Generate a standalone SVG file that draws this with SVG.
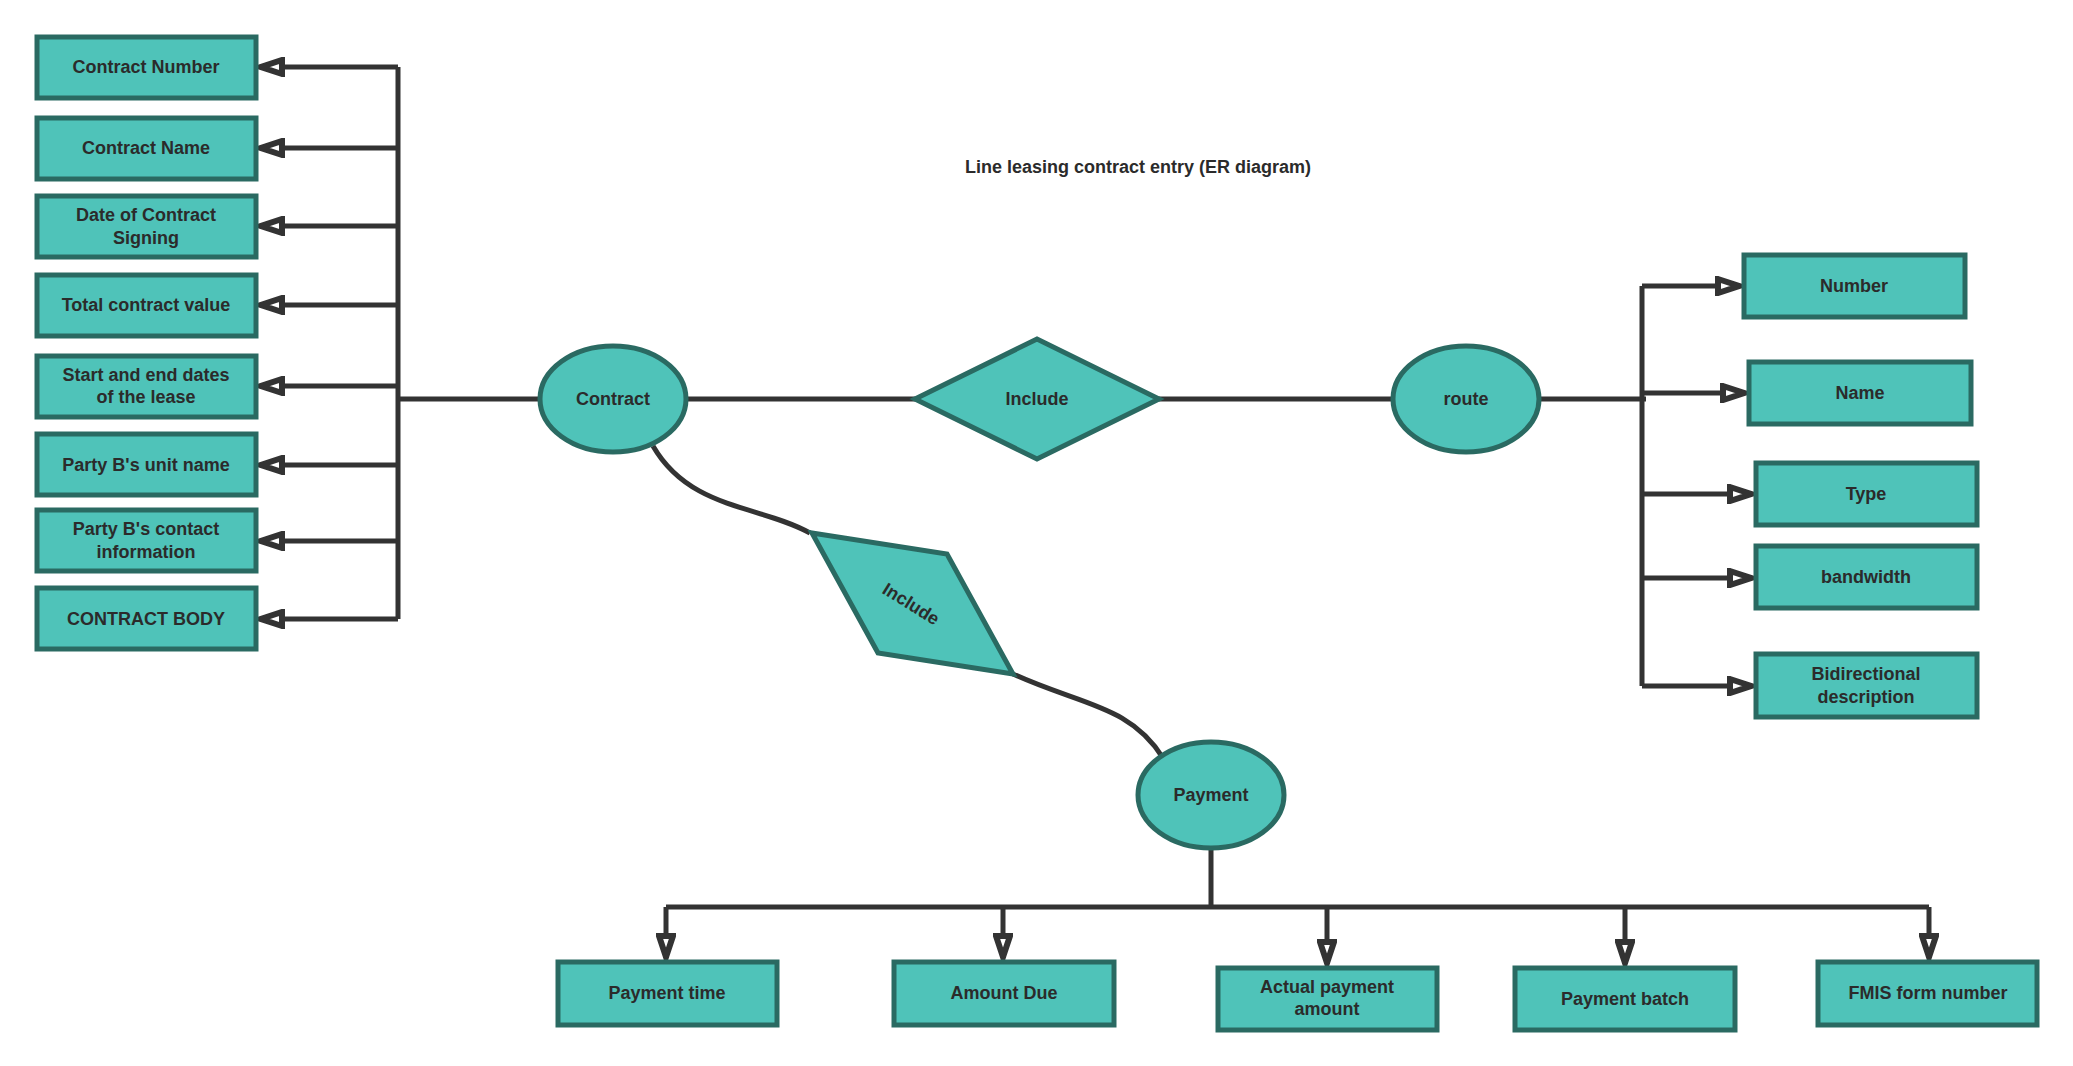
<svg xmlns="http://www.w3.org/2000/svg" width="2073" height="1066" viewBox="0 0 2073 1066">
<style>
.n{fill:#4fc3b9;stroke:#2a6a62;stroke-width:5}
.t{font-family:"Liberation Sans",Arial,sans-serif;font-weight:bold;font-size:18px;fill:#2b2b2b;text-anchor:middle;dominant-baseline:central}
.c{fill:none;stroke:#333;stroke-width:5}
.a{marker-end:url(#ar)}
</style>
<defs>
<marker id="ar" viewBox="0 0 14 10" refX="13" refY="5" markerWidth="5.6" markerHeight="4" orient="auto" markerUnits="strokeWidth">
<path d="M2,1.5 L12.5,5 L2,8.5 Z" fill="#fff" stroke="#333" stroke-width="3" stroke-linejoin="miter"/>
</marker>
</defs>
<rect width="2073" height="1066" fill="#fff"/>
<text class="t" x="1138" y="167">Line leasing contract entry (ER diagram)</text>
<g id="connectors">
<path class="c" d="M398 67 V619 M398 399 H541 M686 399 H915 M1159 399 H1393 M1539 399 H1646 M1642 286 V686"/>
<path class="c a" d="M398 67 H260"/><path class="c a" d="M398 148 H260"/><path class="c a" d="M398 226 H260"/><path class="c a" d="M398 305 H260"/><path class="c a" d="M398 386 H260"/><path class="c a" d="M398 465 H260"/><path class="c a" d="M398 541 H260"/><path class="c a" d="M398 619 H260"/>
<path class="c a" d="M1642 286 H1740"/><path class="c a" d="M1642 393 H1745"/><path class="c a" d="M1642 494 H1752"/><path class="c a" d="M1642 578 H1752"/><path class="c a" d="M1642 686 H1752"/>
<path class="c" d="M653 446 C690 510 760 505 810 533"/>
<path class="c" d="M1013 674 C1080 705 1130 705 1163 758"/>
<path class="c" d="M1211 848 V907 M666 907 H1929"/>
<path class="c a" d="M666 907 V958"/><path class="c a" d="M1003 907 V958"/><path class="c a" d="M1327 907 V964"/><path class="c a" d="M1625 907 V964"/><path class="c a" d="M1929 907 V958"/>
</g>
<g id="contract-number"><rect class="n" x="37" y="37" width="219" height="61"/><text class="t" x="146" y="67">Contract Number</text></g>
<g id="contract-name"><rect class="n" x="37" y="118" width="219" height="61"/><text class="t" x="146" y="148">Contract Name</text></g>
<g id="date-signing"><rect class="n" x="37" y="196" width="219" height="61"/><text class="t" x="146" y="215">Date of Contract</text><text class="t" x="146" y="238">Signing</text></g>
<g id="total-value"><rect class="n" x="37" y="275" width="219" height="61"/><text class="t" x="146" y="305">Total contract value</text></g>
<g id="lease-dates"><rect class="n" x="37" y="356" width="219" height="61"/><text class="t" x="146" y="375">Start and end dates</text><text class="t" x="146" y="397">of the lease</text></g>
<g id="unit-name"><rect class="n" x="37" y="434" width="219" height="61"/><text class="t" x="146" y="465">Party B's unit name</text></g>
<g id="contact-info"><rect class="n" x="37" y="510" width="219" height="61"/><text class="t" x="146" y="529">Party B's contact</text><text class="t" x="146" y="552">information</text></g>
<g id="contract-body"><rect class="n" x="37" y="588" width="219" height="61"/><text class="t" x="146" y="619">CONTRACT BODY</text></g>
<g id="contract"><ellipse class="n" cx="613" cy="399" rx="73" ry="53"/><text class="t" x="613" y="399">Contract</text></g>
<g id="include1"><polygon class="n" points="915,399 1037,339 1159,399 1037,459"/><text class="t" x="1037" y="399">Include</text></g>
<g id="route"><ellipse class="n" cx="1466" cy="399" rx="73" ry="53"/><text class="t" x="1466" y="399">route</text></g>
<g id="number"><rect class="n" x="1744" y="255" width="221" height="62"/><text class="t" x="1854" y="286">Number</text></g>
<g id="name"><rect class="n" x="1749" y="362" width="222" height="62"/><text class="t" x="1860" y="393">Name</text></g>
<g id="type"><rect class="n" x="1756" y="463" width="221" height="62"/><text class="t" x="1866" y="494">Type</text></g>
<g id="bandwidth"><rect class="n" x="1756" y="546" width="221" height="62"/><text class="t" x="1866" y="577">bandwidth</text></g>
<g id="bidirectional"><rect class="n" x="1756" y="654" width="221" height="63"/><text class="t" x="1866" y="674">Bidirectional</text><text class="t" x="1866" y="697">description</text></g>
<g id="include2"><polygon class="n" points="812,533 947,554 1013,674 878,653"/><text class="t" x="911" y="604" transform="rotate(32 911 604)">Include</text></g>
<g id="payment"><ellipse class="n" cx="1211" cy="795" rx="73" ry="53"/><text class="t" x="1211" y="795">Payment</text></g>
<g id="payment-time"><rect class="n" x="558" y="962" width="219" height="63"/><text class="t" x="667" y="993">Payment time</text></g>
<g id="amount-due"><rect class="n" x="894" y="962" width="220" height="63"/><text class="t" x="1004" y="993">Amount Due</text></g>
<g id="actual-amount"><rect class="n" x="1218" y="968" width="219" height="62"/><text class="t" x="1327" y="987">Actual payment</text><text class="t" x="1327" y="1009">amount</text></g>
<g id="payment-batch"><rect class="n" x="1515" y="968" width="220" height="62"/><text class="t" x="1625" y="999">Payment batch</text></g>
<g id="fmis"><rect class="n" x="1818" y="962" width="219" height="63"/><text class="t" x="1928" y="993">FMIS form number</text></g>
</svg>
